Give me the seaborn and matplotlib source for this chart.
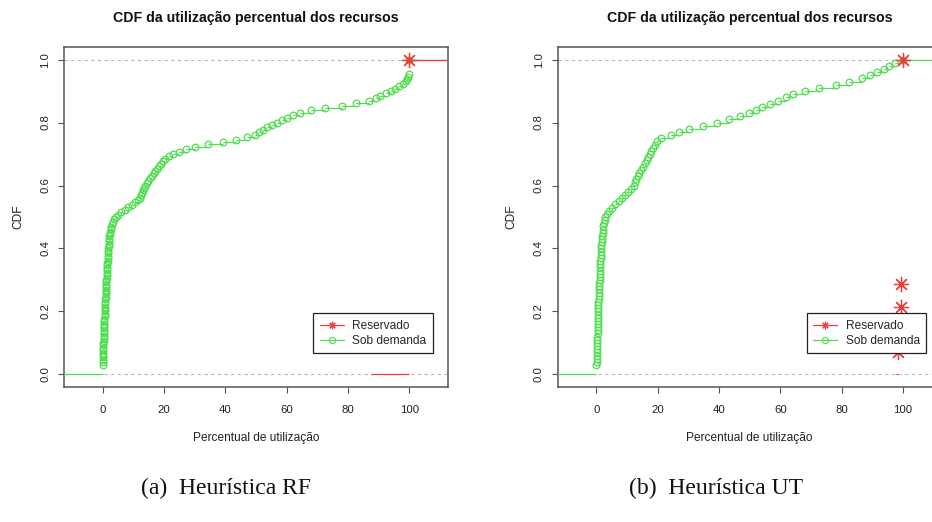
import numpy as np
import matplotlib
matplotlib.use("Agg")
import matplotlib.pyplot as plt
import seaborn as sns
from matplotlib.lines import Line2D

sns.set_style("white")
plt.rcParams['font.family'] = ['Liberation Sans', 'DejaVu Sans']

# ---------------- data ----------------
panel_title = "CDF da utilização percentual dos recursos"
captions = ["(a)  Heurística RF", "(b)  Heurística UT"]
legend_labels = ["Reservado", "Sob demanda"]
x_label = "Percentual de utilização"
y_label = "CDF"
x_ticks = [0, 20, 40, 60, 80, 100]
y_ticks = [0.0, 0.2, 0.4, 0.6, 0.8, 1.0]
y_tick_labels = ["0.0", "0.2", "0.4", "0.6", "0.8", "1.0"]

# Heurística RF : utilisation samples (%)
rf_sob_demanda = [
    0, 0, 0, 0,
    0.02, 0.05, 0.07, 0.1, 0.12, 0.15, 0.18, 0.2, 0.23, 0.26, 0.3,
    0.33, 0.36, 0.4, 0.43, 0.46, 0.5, 0.53, 0.56, 0.6, 0.63, 0.66, 0.7, 0.73, 0.76, 0.8,
    0.85, 0.9, 0.94, 0.98, 1.03, 1.08, 1.12, 1.16, 1.2, 1.25, 1.3, 1.35, 1.4, 1.45, 1.5,
    1.55, 1.6, 1.65, 1.7, 1.75, 1.8, 1.85, 1.9, 1.95, 2.0,
    2.1, 2.2, 2.3, 2.45, 2.6,
    2.8, 3.0, 3.3, 3.7, 4.3, 5.1,
    6.0, 7.2, 8.3, 9.5, 10.6, 11.4, 12.0, 12.4, 12.8,
    13.1, 13.5, 13.9, 14.3, 14.8, 15.4, 16.0, 16.6, 17.2, 17.8,
    18.4, 18.9, 19.5, 20.3, 21.5, 23.0, 25.0, 27.3, 30.2, 34.3,
    39.3, 43.4, 47.0, 49.6, 51.0, 52.3, 53.6, 55.2, 56.8, 58.4,
    60.1, 62.0, 64.5, 68.0, 72.6, 78.1, 82.7, 86.8, 89.0, 90.6,
    92.3, 93.9, 95.5, 96.6, 97.9, 98.8, 99.3, 99.6, 99.8,
    100, 100, 100, 100, 100, 100,
]
rf_reservado = [100, 100, 100, 100, 100, 100, 100, 100, 100, 100]

# Heurística UT : utilisation samples (%)
ut_sob_demanda = [
    0, 0, 0,
    0.05, 0.1, 0.15, 0.2, 0.22, 0.25, 0.3,
    0.32, 0.34, 0.36, 0.38, 0.4, 0.42, 0.44, 0.46, 0.48, 0.5,
    0.55, 0.6, 0.65, 0.7, 0.75, 0.8, 0.85, 0.9, 0.95, 1.0,
    1.05, 1.1, 1.15, 1.2, 1.25, 1.3, 1.35, 1.4, 1.45, 1.5,
    1.6, 1.7, 1.8, 1.9, 2.0, 2.1,
    2.3, 2.5, 2.7, 2.9,
    3.4, 4.2, 5.0, 6.0, 7.2, 8.3, 9.3, 10.3, 11.3, 12.1,
    12.6, 13.0, 13.4, 13.9, 14.5, 15.2, 15.9,
    16.4, 16.9, 17.4, 17.9, 18.5, 19.1, 19.8,
    21.0, 24.3, 26.8, 30.3, 34.7, 39.3, 43.4, 46.9, 49.7, 51.9,
    54.1, 56.5, 59.2, 62.0, 64.2, 68.2, 72.6, 78.1, 82.5, 86.6,
    89.3, 91.5, 93.7, 95.6, 97.5, 100,
]
ut_reservado = [98.5, 98.9, 99.3, 99.5, 100, 100, 100, 100, 100, 100, 100, 100, 100, 100]

panels = [(rf_reservado, rf_sob_demanda), (ut_reservado, ut_sob_demanda)]

# ---------------- style ----------------
GREEN = "#4fde4f"
RED = "#f03c3c"
FRAME = "#555555"
STAR = (8, 2, 0)


def ecdf_parts(values):
    """R-style ecdf: unique knots, cumulative proportion, plotting extent."""
    v = np.asarray(values, dtype=float)
    knots, counts = np.unique(v, return_counts=True)
    cdf = np.cumsum(counts) / counts.sum()
    if len(knots) > 1:
        dr = max(0.08 * (knots[-1] - knots[0]), float(np.median(np.diff(knots))))
    else:
        dr = abs(knots[0]) / 16.0
    xlim = (knots[0] - dr, knots[-1] + dr)
    return knots, cdf, dr, xlim


def draw_ecdf(ax, values, color, marker, ms, mew):
    knots, cdf, dr, xlim = ecdf_parts(values)
    starts = np.r_[xlim[0] - dr, knots]
    ends = np.r_[knots, xlim[1] + dr]
    levels = np.r_[0.0, cdf]
    ax.hlines(levels, starts, ends, colors=color, linewidth=0.9, zorder=3)
    sns.lineplot(x=knots, y=cdf, ax=ax, estimator=None, sort=False,
                 linestyle="none", marker=marker, markersize=ms,
                 markerfacecolor="none", markeredgecolor=color,
                 markeredgewidth=mew, color=color, zorder=4)
    return xlim


fig = plt.figure(figsize=(9.32, 5.22), dpi=100)
W, H = 932.0, 522.0
ax_lefts = [64.0, 557.7]
ax_w, ax_top, ax_bot = 384.0, 47.0, 387.0
caption_x = [226.0, 716.0]
caption_y = 488.0

for i, (reserv, sob) in enumerate(panels):
    ax = fig.add_axes([ax_lefts[i] / W, (H - ax_bot) / H, ax_w / W, (ax_bot - ax_top) / H])
    ax.axhline(0, color="#b8b8b8", linestyle=(0, (3, 3)), linewidth=0.8, zorder=1)
    ax.axhline(1, color="#b8b8b8", linestyle=(0, (3, 3)), linewidth=0.8, zorder=1)

    xlim = draw_ecdf(ax, sob, GREEN, "o", 4.8, 0.9)
    draw_ecdf(ax, reserv, RED, STAR, 11, 0.9)

    span = xlim[1] - xlim[0]
    ax.set_xlim(xlim[0] - 0.04 * span, xlim[1] + 0.04 * span)
    ax.set_ylim(-0.04, 1.04)

    ax.set_xticks(x_ticks)
    ax.set_xticklabels([str(t) for t in x_ticks])
    ax.set_yticks(y_ticks)
    ax.set_yticklabels(y_tick_labels, rotation=90, va="center")
    ax.tick_params(axis="both", which="both", bottom=True, left=True,
                   direction="out", length=4, width=0.8, color=FRAME,
                   labelsize=8.2, labelcolor="#222222")
    ax.tick_params(axis="x", pad=9)
    ax.tick_params(axis="y", pad=6)
    for sp in ax.spines.values():
        sp.set_color(FRAME)
        sp.set_linewidth(1.1)

    ax.set_xlabel(x_label, fontsize=8.6, color="#222222")
    ax.set_ylabel(y_label, fontsize=8.6, color="#222222")
    ax.xaxis.set_label_coords(0.5, (ax_bot - 432.0) / (ax_bot - ax_top))
    ax.yaxis.set_label_coords((24.0 - 64.0) / ax_w, 0.5)
    ax.text(0.5, (ax_bot - 18.0) / (ax_bot - ax_top), panel_title,
            transform=ax.transAxes, ha="center", va="center",
            fontsize=10.2, fontweight="bold", color="#111111")

    handles = [
        Line2D([], [], color=RED, linewidth=0.9, marker=STAR, markersize=5.5,
               markeredgecolor=RED, markeredgewidth=0.8),
        Line2D([], [], color=GREEN, linewidth=0.9, marker="o", markersize=4.5,
               markerfacecolor="none", markeredgecolor=GREEN, markeredgewidth=0.8),
    ]
    leg = ax.legend(handles, legend_labels, loc="lower right",
                    bbox_to_anchor=((432.7 - 64.0) / ax_w, (ax_bot - 353.3) / (ax_bot - ax_top)),
                    borderaxespad=0, fontsize=8.6, frameon=True, fancybox=False,
                    shadow=False, handlelength=2.0, handletextpad=0.7,
                    labelspacing=0.25, borderpad=0.55)
    leg.get_frame().set_edgecolor("#222222")
    leg.get_frame().set_linewidth(0.9)
    leg.get_frame().set_facecolor("white")
    leg.get_frame().set_alpha(1)
    leg.set_zorder(5)

    fig.text(caption_x[i] / W, 1 - caption_y / H, captions[i], ha="center", va="center",
             fontsize=17, family=["Liberation Serif", "DejaVu Serif"], color="#111111")

fig.savefig("out.png", dpi=100, facecolor="white")
